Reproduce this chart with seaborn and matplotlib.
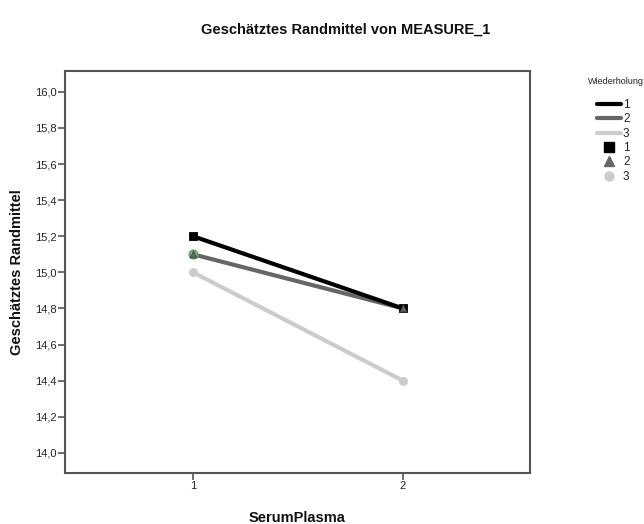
import matplotlib
matplotlib.use("Agg")
import matplotlib.pyplot as plt
from matplotlib.lines import Line2D
import seaborn as sns
import pandas as pd

serum_plasma = [1, 2]
wiederholung = ["1", "2", "3"]
means_1 = [15.2, 14.8]
means_2 = [15.1, 14.8]
means_3 = [15.0, 14.4]
y_ticks = [14.0, 14.2, 14.4, 14.6, 14.8, 15.0, 15.2, 15.4, 15.6, 15.8, 16.0]

colors = {"1": "#000000", "2": "#666666", "3": "#cccccc"}
markers = {"1": "s", "2": "^", "3": "o"}
widths = {"1": 3.0, "2": 3.0, "3": 3.0}

rows = []
for rep, vals in zip(wiederholung, [means_1, means_2, means_3]):
    for x, v in zip(serum_plasma, vals):
        rows.append({"SerumPlasma": x, "Wiederholung": rep, "Mittel": v})
df = pd.DataFrame(rows)

sns.set_theme(style="white")
plt.rcParams["font.family"] = ["Liberation Sans", "DejaVu Sans"]

fig = plt.figure(figsize=(6.44, 5.24), dpi=100)
ax = fig.add_axes([65 / 644, 1 - 473 / 524, (530 - 65) / 644, (473 - 71) / 524])

for rep in ["3", "2", "1"]:
    sub = df[df["Wiederholung"] == rep]
    sns.lineplot(data=sub, x="SerumPlasma", y="Mittel", ax=ax, color=colors[rep],
                 linewidth=widths[rep], legend=False, zorder=3)

# markers on top (series 2 drawn over series 1)
for rep in ["3", "1", "2"]:
    sub = df[df["Wiederholung"] == rep]
    if rep == "2":
        first = sub.iloc[[0]]
        sns.scatterplot(data=first, x="SerumPlasma", y="Mittel", ax=ax, marker="o", s=40,
                        color="#a0a8a0", edgecolor="#4caf50", linewidth=1.0, legend=False, zorder=4)
    sns.scatterplot(data=sub, x="SerumPlasma", y="Mittel", ax=ax, color=colors[rep],
                    marker=markers[rep], s=34 if rep != "2" else 24,
                    edgecolor=colors[rep] if rep != "2" else "#444444",
                    linewidth=0.6, legend=False, zorder=5)

ax.set_xlim(0.39, 2.605)
ax.set_ylim(13.889, 16.115)
ax.set_xticks(serum_plasma)
ax.set_xticklabels([str(v) for v in serum_plasma])
ax.set_yticks(y_ticks)
ax.set_yticklabels([f"{v:.1f}".replace(".", ",") for v in y_ticks])
ax.tick_params(axis="both", which="both", direction="out", length=5, width=1.2,
               color="#555555", labelsize=8, labelcolor="#222222", pad=1, left=True, bottom=True)
for sp in ax.spines.values():
    sp.set_visible(True)
    sp.set_color("#555555")
    sp.set_linewidth(1.5)

ax.set_xlabel("SerumPlasma", fontsize=10.5, fontweight="bold", color="#111111", labelpad=14)
ax.set_ylabel("Geschätztes Randmittel", fontsize=10.5, fontweight="bold", color="#111111", labelpad=8)
fig.text(346 / 644, 1 - 30 / 524, "Geschätztes Randmittel von MEASURE_1", ha="center", va="center",
         fontsize=10.5, fontweight="bold", color="#111111")

fig.text(588 / 644, 1 - 81 / 524, "Wiederholung", ha="left", va="center", fontsize=6.5, color="#222222")
handles = [Line2D([], [], color=colors[r], lw=3) for r in wiederholung]
handles += [Line2D([], [], color=colors[r], marker=markers[r], linestyle="none", markersize=6.5)
            for r in wiederholung]
labels = wiederholung + wiederholung
leg = fig.legend(handles, labels, loc="upper left",
                 bbox_to_anchor=(597 / 644, 1 - 99 / 524), frameon=False, fontsize=8.5,
                 handlelength=2.0, handletextpad=0.2, labelspacing=0.2,
                 borderpad=0, borderaxespad=0)
for t in leg.get_texts():
    t.set_color("#222222")

fig.savefig("out.png", dpi=100)
